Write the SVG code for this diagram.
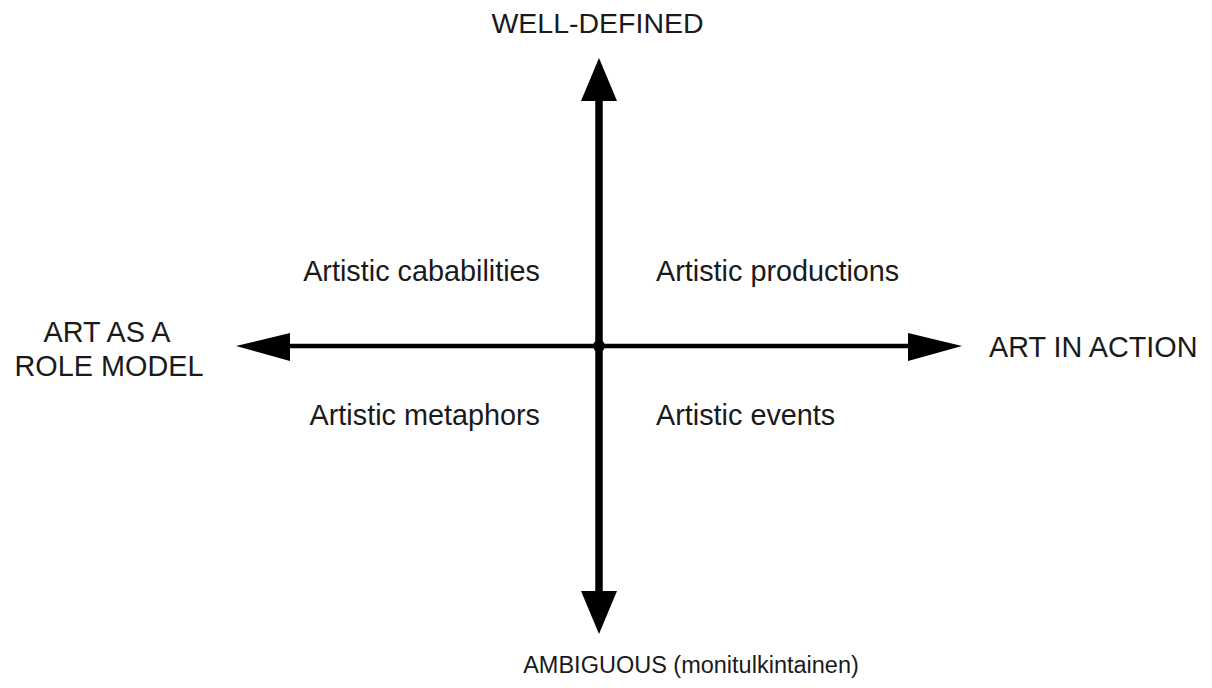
<svg xmlns="http://www.w3.org/2000/svg" width="1212" height="688" viewBox="0 0 1212 688">
<style>
text{font-family:"Liberation Sans",Arial,sans-serif;font-size:28.8px;fill:#1a1a1a}
.ah{fill:#000}
</style>
<rect width="1212" height="688" fill="#fff"/>
<g id="connectors">
<line x1="599" y1="98" x2="599" y2="594" stroke="#000" stroke-width="7.5"/>
<line x1="287" y1="346" x2="911" y2="346" stroke="#000" stroke-width="4.5"/>
<polygon class="ah" points="599,58 617,101 581,101"/>
<polygon class="ah" points="599,634 617,591 581,591"/>
<polygon class="ah" points="236,346 290,333 290,361"/>
<polygon class="ah" points="962,346 908,333 908,361"/>
<circle cx="599" cy="346" r="6" fill="#000"/>
</g>
<g id="well-defined"><text x="597.5" y="33" text-anchor="middle" style="font-size:28.5px">WELL-DEFINED</text></g>
<g id="ambiguous"><text x="691" y="673" text-anchor="middle" style="font-size:23.5px">AMBIGUOUS (monitulkintainen)</text></g>
<g id="art-in-action"><text x="989" y="357">ART IN ACTION</text></g>
<g id="art-as-role-model"><text text-anchor="middle"><tspan x="107" y="342">ART AS A</tspan><tspan x="109" y="376">ROLE MODEL</tspan></text></g>
<g id="q-capabilities"><text x="540" y="281" text-anchor="end">Artistic cababilities</text></g>
<g id="q-productions"><text x="656" y="281">Artistic productions</text></g>
<g id="q-metaphors"><text x="540" y="425" text-anchor="end">Artistic metaphors</text></g>
<g id="q-events"><text x="656" y="425">Artistic events</text></g>
</svg>
